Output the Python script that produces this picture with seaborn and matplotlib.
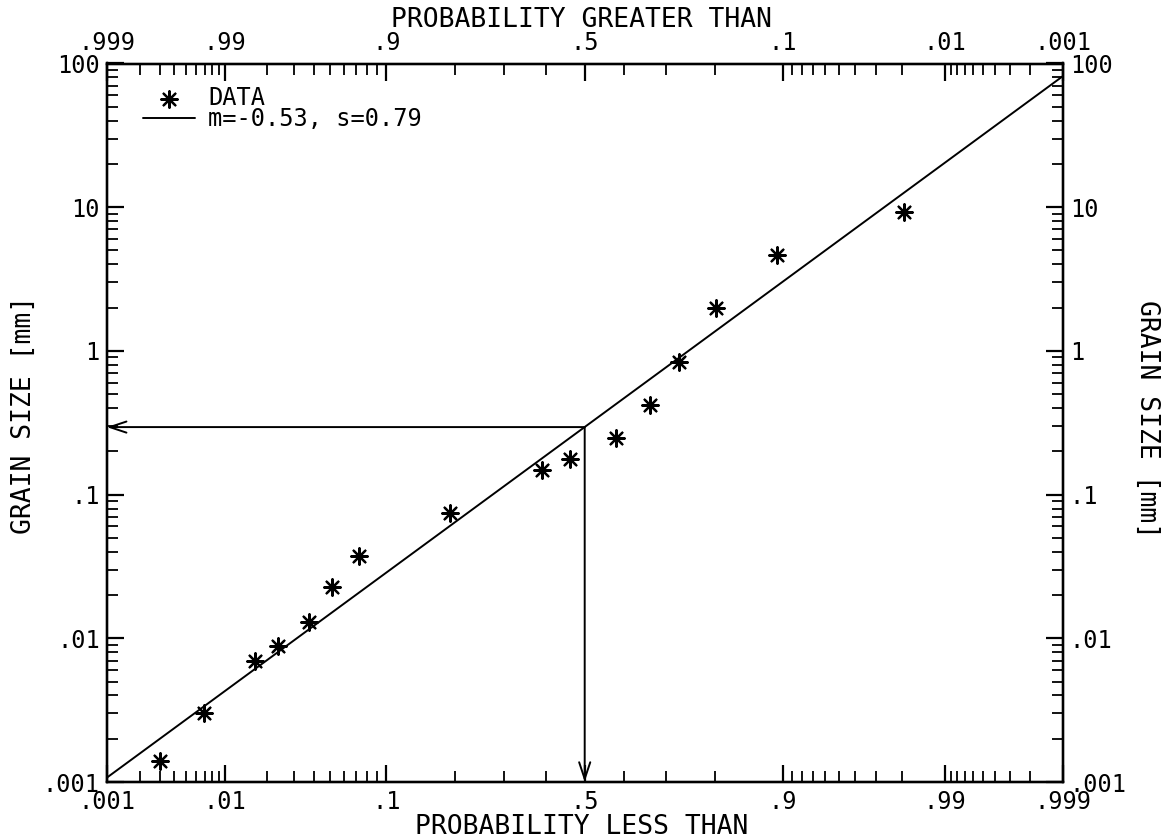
import numpy as np
import matplotlib
matplotlib.use("Agg")
import matplotlib.pyplot as plt
from matplotlib.ticker import LogLocator, NullFormatter, FixedLocator
import seaborn as sns
from statistics import NormalDist

# ---------------- data ----------------
prob_less = [0.0030, 0.0069, 0.0166, 0.0236, 0.0375, 0.0510, 0.0720, 0.192,
             0.3905, 0.462, 0.580, 0.6635, 0.730, 0.8026, 0.8934, 0.9806]
grain_mm = [0.0014, 0.0030, 0.0070, 0.0089, 0.013, 0.0229, 0.0374, 0.0741,
            0.148, 0.178, 0.247, 0.42, 0.84, 1.98, 4.65, 9.3]

fit_label = "m=-0.53, s=0.79"
fit_p = [0.001, 0.999]
fit_y = [0.00107, 81.5]
median_p = 0.5
median_y = 0.295

x_major = [0.001, 0.01, 0.1, 0.5, 0.9, 0.99, 0.999]
x_major_labels = [".001", ".01", ".1", ".5", ".9", ".99", ".999"]
x_top_labels = [".999", ".99", ".9", ".5", ".1", ".01", ".001"]
x_minor = ([k / 1000 for k in range(2, 10)] + [k / 100 for k in range(2, 10)] +
           [0.2, 0.3, 0.4, 0.6, 0.7, 0.8] +
           [1 - k / 100 for k in range(2, 10)] + [1 - k / 1000 for k in range(2, 10)])
y_major = [0.001, 0.01, 0.1, 1, 10, 100]
y_major_labels = [".001", ".01", ".1", "1", "10", "100"]

# ---------------- style ----------------
sns.set_theme(style="ticks")
plt.rcParams["font.family"] = ["DejaVu Sans Mono", "DejaVu Sans"]
plt.rcParams.update({
    "axes.linewidth": 1.6,
    "text.color": "black",
    "axes.labelcolor": "black",
    "xtick.color": "black",
    "ytick.color": "black",
    "axes.edgecolor": "black",
})

ND = NormalDist()


def fwd(p):
    p = np.clip(np.asarray(p, dtype=float), 1e-12, 1 - 1e-12)
    return np.vectorize(ND.inv_cdf, otypes=[float])(p)


def inv(z):
    z = np.asarray(z, dtype=float)
    return np.vectorize(ND.cdf, otypes=[float])(z)


fig = plt.figure(figsize=(11.62, 8.40), dpi=100)
ax = fig.add_axes([106.7 / 1162, 1 - 782 / 840, (1062.7 - 106.7) / 1162, (782 - 63.5) / 840])
ax.set_xscale("function", functions=(fwd, inv))
ax.set_yscale("log")

sns.lineplot(x=fit_p, y=fit_y, ax=ax, color="black", lw=1.4, label=fit_label)
sns.scatterplot(x=prob_less, y=grain_mm, ax=ax, marker=(8, 2, 0), s=140,
                color="black", edgecolor="black", linewidth=1.6, label="DATA")

ax.set_xlim(0.001, 0.999)
ax.set_ylim(0.001, 100)

arrow_kw = dict(arrowstyle="->,head_length=0.6,head_width=0.2", mutation_scale=20,
                lw=1.4, color="black", shrinkA=0, shrinkB=0)
ax.annotate("", xy=(0.001, median_y), xytext=(median_p, median_y),
            arrowprops=arrow_kw, annotation_clip=False)
ax.annotate("", xy=(median_p, 0.001), xytext=(median_p, median_y),
            arrowprops=arrow_kw, annotation_clip=False)

tick_fs = 17
label_fs = 19

# bottom x
ax.xaxis.set_major_locator(FixedLocator(x_major))
ax.set_xticklabels(x_major_labels)
ax.xaxis.set_minor_locator(FixedLocator(x_minor))
ax.xaxis.set_minor_formatter(NullFormatter())
# left y
ax.yaxis.set_major_locator(FixedLocator(y_major))
ax.set_yticklabels(y_major_labels)
ax.yaxis.set_minor_locator(LogLocator(base=10, subs=np.arange(2, 10), numticks=20))
ax.yaxis.set_minor_formatter(NullFormatter())

# top x
ax2 = ax.twiny()
ax2.set_xscale("function", functions=(fwd, inv))
ax2.set_xlim(0.001, 0.999)
ax2.xaxis.set_major_locator(FixedLocator(x_major))
ax2.set_xticklabels(x_top_labels)
ax2.xaxis.set_minor_locator(FixedLocator(x_minor))
ax2.xaxis.set_minor_formatter(NullFormatter())

# right y
ax3 = ax.twinx()
ax3.set_yscale("log")
ax3.set_ylim(0.001, 100)
ax3.yaxis.set_major_locator(FixedLocator(y_major))
ax3.set_yticklabels(y_major_labels)
ax3.yaxis.set_minor_locator(LogLocator(base=10, subs=np.arange(2, 10), numticks=20))
ax3.yaxis.set_minor_formatter(NullFormatter())

for a in (ax, ax2, ax3):
    a.tick_params(which="major", direction="in", length=12, width=1.6,
                  labelsize=tick_fs, pad=5, color="black", labelcolor="black")
    a.tick_params(which="minor", direction="in", length=8, width=1.3, color="black")
    for s in a.spines.values():
        s.set_color("black")
        s.set_linewidth(1.6)
ax.tick_params(axis="x", which="both", top=False)
ax.tick_params(axis="y", which="both", right=False)
ax.tick_params(axis="x", which="major", pad=6)
ax2.tick_params(axis="x", which="major", pad=6)
ax2.tick_params(axis="x", which="both", bottom=False)

ax.set_xlabel("PROBABILITY LESS THAN", fontsize=label_fs)
ax.xaxis.set_label_coords(0.497, -0.0625)
ax2.set_xlabel("PROBABILITY GREATER THAN", fontsize=label_fs)
ax2.xaxis.set_label_coords(0.497, 1.0605)
ax.set_ylabel("GRAIN SIZE [mm]", fontsize=label_fs, va="center", ha="center")
ax.yaxis.set_label_coords(-0.087, 0.511)
ax3.set_ylabel("GRAIN SIZE [mm]", fontsize=label_fs, rotation=-90, va="center", ha="center")
ax3.yaxis.set_label_coords(1.088, 0.505)
ax.xaxis.label.set_va("center")
ax2.xaxis.label.set_va("center")

# legend: DATA first
handles, labels = ax.get_legend_handles_labels()
order = [labels.index("DATA"), labels.index(fit_label)]
ax.legend([handles[i] for i in order], [labels[i] for i in order],
          loc="upper left", bbox_to_anchor=(0.038, 0.969), frameon=False,
          fontsize=tick_fs, handlelength=2.2, handletextpad=0.55,
          labelspacing=-0.1, borderpad=0, borderaxespad=0)

fig.savefig("out.png", dpi=100, facecolor="white")
